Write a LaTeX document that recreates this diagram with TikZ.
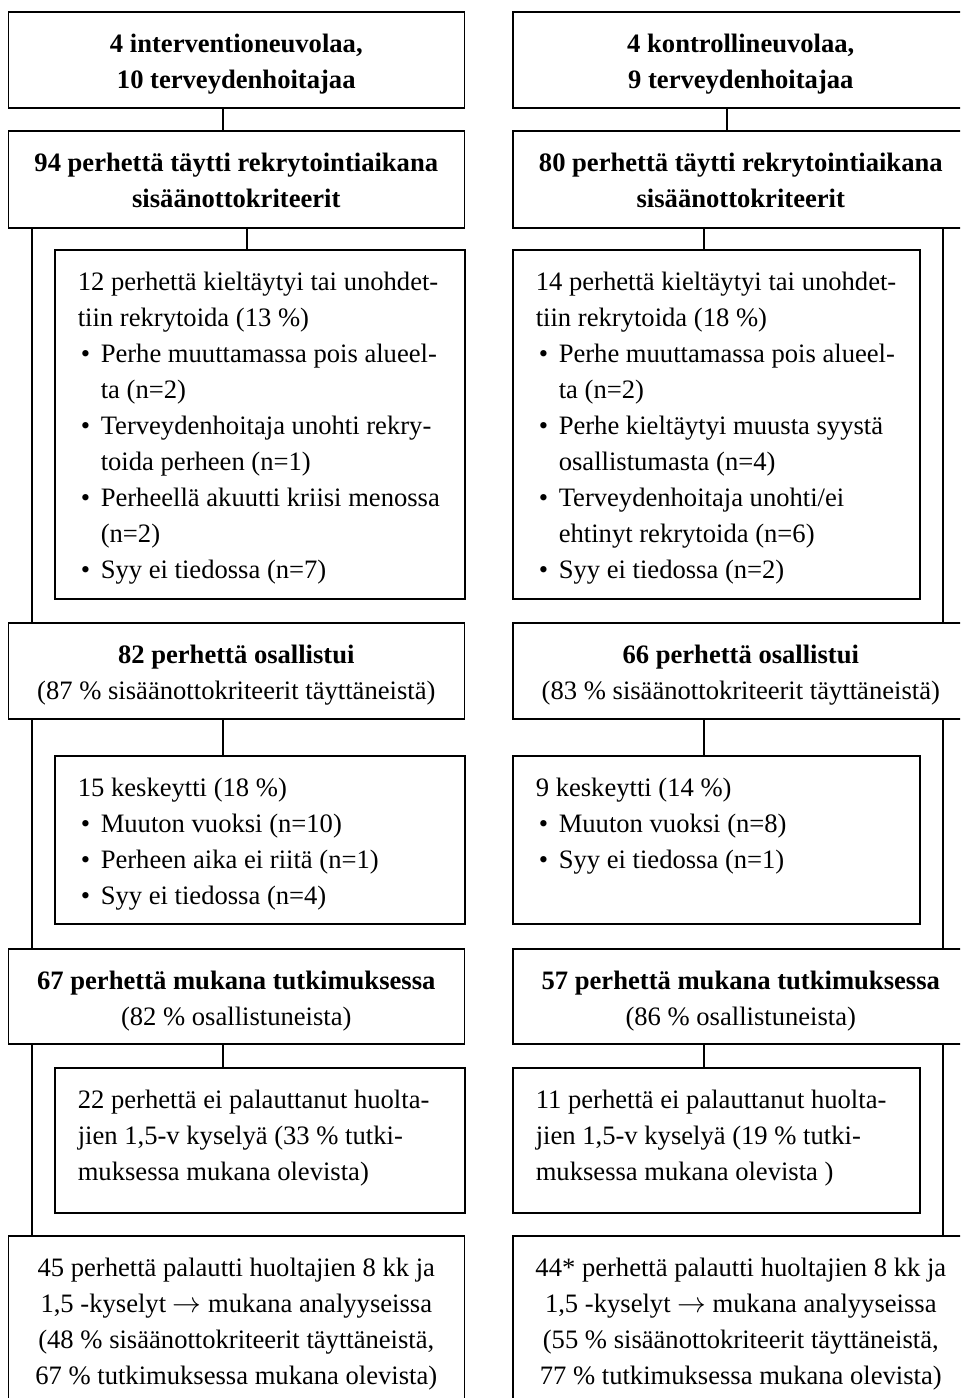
\documentclass[tikz,border=0pt]{standalone}
\usepackage{fontspec}
\setmainfont{Liberation Serif}
\newcommand{\dotitem}{\makebox[11.5pt][l]{\hspace{1.5pt}\textbullet}}
\newcommand{\itemgap}{\hspace*{11.5pt}}

\begin{document}
\begin{tikzpicture}[x=0.5pt, y=-0.5pt,
    box/.style={draw, line width=0.8pt, anchor=north west, inner ysep=0pt,
      text height=20.5pt, font=\fontsize{13.3}{18}\selectfont,
      execute at begin node={\spaceskip=.25em\xspaceskip=.25em\relax}},
    mainbox/.style={box, text width=220pt, inner xsep=4pt, align=center, text depth=#1},
    subbox/.style={box, text width=205pt, inner xsep=0pt, align=left, text depth=#1,
      execute at begin node={\leftskip=11.5pt\relax}},
    link/.style={line width=0.6pt}]

    \path[use as bounding box, clip] (0,0) rectangle (960,1398);

    \coordinate (lside) at (32,0);
    \coordinate (lmid)  at (223,0);
    \coordinate (lsub)  at (247,0);
    \coordinate (rsub)  at (704,0);
    \coordinate (rmid)  at (727,0);
    \coordinate (rside) at (943,0);

    % intervention arm
    \node[mainbox=27.5pt] (l1) at (7.5,11) {\textbf{4 interventioneuvolaa,}\\\textbf{10 terveydenhoitajaa}};
    \node[mainbox=28pt]   (l2) at (7.5,130) {\textbf{94 perhettä täytti rekrytointiaikana}\\\textbf{sisäänottokriteerit}};
    \node[subbox=154pt]   (l3) at (54,249) {12 perhettä kieltäytyi tai unohdet-\\tiin rekrytoida (13 \%)\\
      \dotitem Perhe muuttamassa pois alueel-\\\itemgap ta (n=2)\\
      \dotitem Terveydenhoitaja unohti rekry-\\\itemgap toida perheen (n=1)\\
      \dotitem Perheellä akuutti kriisi menossa\\\itemgap (n=2)\\
      \dotitem Syy ei tiedossa (n=7)};
    \node[mainbox=27.5pt] (l4) at (7.5,622) {\textbf{82 perhettä osallistui}\\(87 \% sisäänottokriteerit täyttäneistä)};
    \node[subbox=63.5pt]  (l5) at (54,755) {15 keskeytti (18 \%)\\
      \dotitem Muuton vuoksi (n=10)\\
      \dotitem Perheen aika ei riitä (n=1)\\
      \dotitem Syy ei tiedossa (n=4)};
    \node[mainbox=27pt]   (l6) at (7.5,948) {\textbf{67 perhettä mukana tutkimuksessa}\\(82 \% osallistuneista)};
    \node[subbox=52pt]    (l7) at (54,1067) {22 perhettä ei palauttanut huolta-\\jien 1,5-v kyselyä (33 \% tutki-\\muksessa mukana olevista)};
    \node[mainbox=72pt]   (l8) at (7.5,1235) {45 perhettä palautti huoltajien 8 kk ja\\1,5 -kyselyt $\rightarrow$ mukana analyyseissa\\(48 \% sisäänottokriteerit täyttäneistä,\\67 \% tutkimuksessa mukana olevista)};

    % control arm
    \node[mainbox=27.5pt] (r1) at (512,11) {\textbf{4 kontrollineuvolaa,}\\\textbf{9 terveydenhoitajaa}};
    \node[mainbox=28pt]   (r2) at (512,130) {\textbf{80 perhettä täytti rekrytointiaikana}\\\textbf{sisäänottokriteerit}};
    \node[subbox=154pt, text width=203.5pt] (r3) at (512,249) {14 perhettä kieltäytyi tai unohdet-\\tiin rekrytoida (18 \%)\\
      \dotitem Perhe muuttamassa pois alueel-\\\itemgap ta (n=2)\\
      \dotitem Perhe kieltäytyi muusta syystä\\\itemgap osallistumasta (n=4)\\
      \dotitem Terveydenhoitaja unohti/ei\\\itemgap ehtinyt rekrytoida (n=6)\\
      \dotitem Syy ei tiedossa (n=2)};
    \node[mainbox=27.5pt] (r4) at (512,622) {\textbf{66 perhettä osallistui}\\(83 \% sisäänottokriteerit täyttäneistä)};
    \node[subbox=63.5pt, text width=203.5pt] (r5) at (512,755) {9 keskeytti (14 \%)\\
      \dotitem Muuton vuoksi (n=8)\\
      \dotitem Syy ei tiedossa (n=1)};
    \node[mainbox=27pt]   (r6) at (512,948) {\textbf{57 perhettä mukana tutkimuksessa}\\(86 \% osallistuneista)};
    \node[subbox=52pt, text width=203.5pt] (r7) at (512,1067) {11 perhettä ei palauttanut huolta-\\jien 1,5-v kyselyä (19 \% tutki-\\muksessa mukana olevista )};
    \node[mainbox=72pt]   (r8) at (512,1235) {44* perhettä palautti huoltajien 8 kk ja\\1,5 -kyselyt $\rightarrow$ mukana analyyseissa\\(55 \% sisäänottokriteerit täyttäneistä,\\77 \% tutkimuksessa mukana olevista)};

    \draw[link] (l1.south -| lmid) -- (l2.north -| lmid);
    \draw[link] (l2.south -| lsub) -- (l3.north -| lsub);
    \draw[link] (l4.south -| lmid) -- (l5.north -| lmid);
    \draw[link] (l6.south -| lmid) -- (l7.north -| lmid);

    \draw[link] (r1.south -| rmid) -- (r2.north -| rmid);
    \draw[link] (r2.south -| rsub) -- (r3.north -| rsub);
    \draw[link] (r4.south -| rsub) -- (r5.north -| rsub);
    \draw[link] (r6.south -| rsub) -- (r7.north -| rsub);

    \foreach \a/\b in {2/4, 4/6, 6/8} {
        \draw[link] (l\a.south -| lside) -- (l\b.north -| lside);
        \draw[link] (r\a.south -| rside) -- (r\b.north -| rside);
    }

\end{tikzpicture}
\end{document}
